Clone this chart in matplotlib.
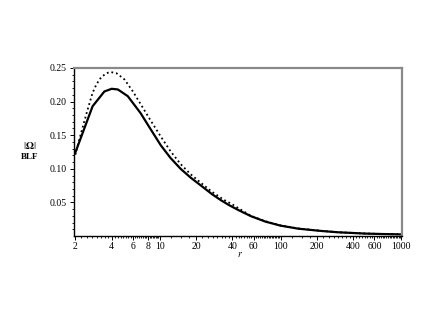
import numpy as np
import matplotlib
matplotlib.use("Agg")
from matplotlib import pyplot as plt
from matplotlib.ticker import FixedLocator, NullFormatter

# Values
r_solid = [2, 2.78, 3.48, 4.0, 4.5, 5.44, 6.93, 8.4, 10.2, 12.3, 14.9, 18, 21.8, 27, 32,
           37.5, 45, 57, 75, 100, 140, 217, 300, 500, 700, 1000]
omega_solid = [0.124, 0.193, 0.215, 0.219, 0.218, 0.208, 0.183, 0.159, 0.135, 0.116,
               0.100, 0.087, 0.0755, 0.0625, 0.0535, 0.046, 0.0385, 0.0295, 0.0215, 0.0155,
               0.011, 0.0076, 0.0056, 0.0037, 0.0030, 0.0025]

r_dotted = [2, 2.23, 2.5, 2.78, 3.0, 3.27, 3.6, 3.9, 4.4, 5.1, 6.0, 7.24, 8.4, 10.2, 12.3,
            14.9, 18, 21.8, 27, 33.9, 40, 57, 75, 100, 140, 217, 300, 500, 700, 1000]
omega_dotted = [0.121, 0.153, 0.185, 0.213, 0.226, 0.236, 0.242, 0.244, 0.242, 0.233,
                0.215, 0.191, 0.172, 0.148, 0.126, 0.107, 0.092, 0.0795, 0.066, 0.054,
                0.047, 0.030, 0.022, 0.0158, 0.0113, 0.0078, 0.0057, 0.0038, 0.0031, 0.0026]

x_major = [2, 4, 6, 8, 10, 20, 40, 60, 100, 200, 400, 600, 1000]
y_major = [0.05, 0.10, 0.15, 0.20, 0.25]

plt.rcParams["font.family"] = ["Liberation Serif", "DejaVu Serif"]
plt.rcParams["mathtext.fontset"] = "stix"

fig = plt.figure(figsize=(4.43, 3.19), dpi=100)
ax = fig.add_axes([0.167, 0.260, 0.740, 0.527])

ax.plot(r_solid, omega_solid, color="black", linewidth=1.6)
ax.plot(r_dotted, omega_dotted, color="black", linewidth=1.3, linestyle=(0, (1, 1.6)))

ax.set_xscale("log")
ax.set_xlim(1.95, 1010)
ax.set_ylim(0, 0.25)

ax.xaxis.set_major_locator(FixedLocator(x_major))
ax.set_xticklabels([str(v) for v in x_major])
minors = list(np.arange(2.25, 10, 0.25)) + list(np.arange(12.5, 100, 2.5)) + list(np.arange(125, 1000, 25))
ax.xaxis.set_minor_locator(FixedLocator(minors))
ax.xaxis.set_minor_formatter(NullFormatter())

ax.yaxis.set_major_locator(FixedLocator(y_major))
ax.set_yticklabels(["%.2f" % v for v in y_major])
ax.yaxis.set_minor_locator(FixedLocator(np.arange(0.01, 0.25, 0.01)))

ax.tick_params(axis="both", which="major", labelsize=7, length=3, width=0.7, pad=2)
ax.tick_params(axis="x", which="major", pad=1)
ax.tick_params(axis="both", which="minor", length=1.5, width=0.6)

for side in ["top", "right"]:
    ax.spines[side].set_color("#8a8a8a")
    ax.spines[side].set_linewidth(1.6)
for side in ["left", "bottom"]:
    ax.spines[side].set_color("black")
    ax.spines[side].set_linewidth(1.0)

ax.set_xlabel(r"$r$", fontsize=7)
ax.xaxis.set_label_coords(0.505, -0.085)
fig.text(0.068, 0.543, r"$|\mathbf{\Omega}|$", fontsize=7.5, ha="center", va="center")
fig.text(0.068, 0.508, "BLF", fontsize=6.5, fontweight="bold", ha="center", va="center")

fig.savefig("out.png", dpi=100)
